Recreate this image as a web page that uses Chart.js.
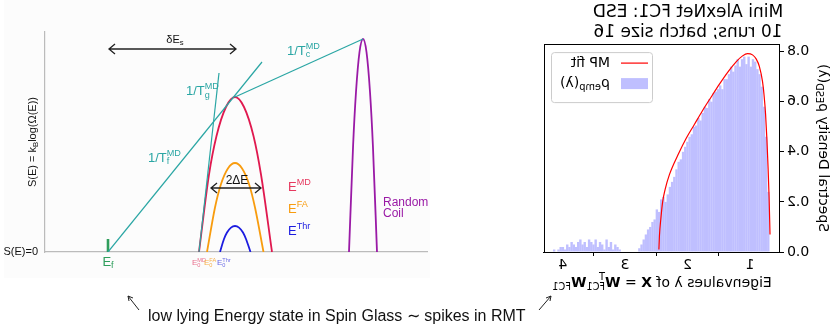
<!DOCTYPE html>
<html lang="en">
<head>
<meta charset="UTF-8">
<title>Spin glass energy landscape vs ESD</title>
<script src="https://cdn.jsdelivr.net/npm/chart.js"></script>
<style>
  body { margin: 0; background: #fff; width: 832px; height: 329px; overflow: hidden; position: relative; }
  #glass { position: absolute; left: 0; top: 0; }
  #esd { position: absolute; left: 520px; top: 0; transform: scaleX(-1); }
  #caption { position: absolute; left: 148px; top: 306px; font: 16px 'Liberation Sans', Arial, sans-serif; color: #111; white-space: nowrap; }
  svg { position: absolute; left: 0; top: 0; }
</style>
</head>
<body>
<canvas id="glass" width="520" height="329"></canvas>
<canvas id="esd" width="312" height="300"></canvas>
<svg width="832" height="329">
  <g stroke="#222" stroke-width="1" fill="none">
    <path d="M139 310 L128 296 M128 296 L129 301 M128 296 L133 298"/>
    <path d="M539 310 L551 296 M551 296 L546 298 M551 296 L550 301"/>
  </g>
</svg>
<div id="caption">low lying Energy state in Spin Glass ∼ spikes in RMT</div>

<script>
// ---- right panel: ESD histogram (drawn normally, mirrored by CSS) ----
const binStart = 0.69;
const binWidth = 0.035;
const esdDensity = [
  0.24, 0.46, 0.58, 0.66, 0.71, 0.73, 0.76, 0.77, 0.74, 0.78,
  0.75, 0.78, 0.77, 0.74, 0.77, 0.745, 0.72, 0.74, 0.71, 0.69,
  0.69, 0.65, 0.665, 0.65, 0.64, 0.635, 0.60, 0.61, 0.575, 0.58,
  0.555, 0.525, 0.535, 0.505, 0.50, 0.47, 0.46, 0.44, 0.42, 0.40,
  0.37, 0.36, 0.33, 0.30, 0.28, 0.26, 0.23, 0.20, 0.22, 0.21,
  0.16, 0.17, 0.13, 0.12, 0.10, 0.09, 0.07, 0.05, 0.03, 0.015,
  0, 0, 0, 0, 0, 0, 0, 0,
  0.01, 0.02, 0.03, 0.01, 0.04, 0.02, 0.05, 0.01, 0.03, 0.04,
  0.02, 0.05, 0.03, 0.04, 0.05, 0.02, 0.04, 0.03, 0.05, 0.04,
  0.02, 0.03, 0.04, 0.02, 0.03, 0.01, 0.02, 0.02, 0.01, 0.0,
  0.01, 0.0
];
const mpLambda  = [0.68, 0.695, 0.71, 0.73, 0.75, 0.775, 0.80, 0.85, 0.90, 0.96, 1.04, 1.12, 1.22, 1.35, 1.49, 1.62, 1.76, 1.89, 2.02, 2.15, 2.29, 2.36, 2.40, 2.43, 2.45, 2.46];
const mpDensity = [0.07, 0.22, 0.33, 0.45, 0.545, 0.625, 0.68, 0.74, 0.77, 0.787, 0.792, 0.783, 0.76, 0.72, 0.67, 0.62, 0.565, 0.51, 0.455, 0.39, 0.31, 0.25, 0.20, 0.13, 0.07, 0.01];
const xTicks = [1, 2, 3, 4];
const yTicks = [0, 0.2, 0.4, 0.6, 0.8];

const MPL = '"DejaVu Sans", sans-serif';
const SANS = '"Liberation Sans", Arial, sans-serif';

// rich text: parts [{t, b, sup, sub, keep}]
function drawRich(ctx, parts, x, y, o) {
  ctx.save();
  ctx.fillStyle = o.color || '#000';
  ctx.textBaseline = 'middle';
  ctx.textAlign = 'left';
  let w = 0;
  const runs = parts.map(p => {
    const fs = (p.sup || p.sub) ? o.size * 0.7 : o.size;
    const font = (p.b ? 'bold ' : '') + fs + 'px ' + o.family;
    ctx.font = font;
    const r = { t: p.t, font, dx: w, dy: p.sup ? -o.size * 0.38 : p.sub ? o.size * 0.3 : 0 };
    if (!p.keep) w += ctx.measureText(p.t).width;
    return r;
  });
  const x0 = o.align === 'center' ? x - w / 2 : o.align === 'right' ? x - w : x;
  runs.forEach(r => { ctx.font = r.font; ctx.fillText(r.t, x0 + r.dx, y + r.dy); });
  ctx.restore();
}

const esdExtras = {
  id: 'esdExtras',
  afterDraw(chart) {
    const { ctx, chartArea: a } = chart;
    ctx.save();
    ctx.strokeStyle = '#000';
    ctx.lineWidth = 1;
    ctx.strokeRect(Math.round(a.left) + 0.5, Math.round(a.top) + 0.5, Math.round(a.right - a.left) - 1, Math.round(a.bottom - a.top));
    // legend
    const lx = a.right - 109, ly = a.top + 8;
    ctx.beginPath();
    ctx.roundRect(lx + 0.5, ly + 0.5, 101, 50, 3);
    ctx.fillStyle = 'rgba(255,255,255,0.8)';
    ctx.fill();
    ctx.strokeStyle = '#cccccc';
    ctx.stroke();
    ctx.strokeStyle = 'red';
    ctx.lineWidth = 1.2;
    ctx.beginPath();
    ctx.moveTo(lx + 5, ly + 11); ctx.lineTo(lx + 32, ly + 11);
    ctx.stroke();
    ctx.fillStyle = 'rgb(191,191,255)';
    ctx.fillRect(lx + 5, ly + 26, 27, 11);
    ctx.restore();
    drawRich(ctx, [{ t: 'MP fit' }], lx + 43, ly + 11, { size: 14, family: MPL });
    drawRich(ctx, [{ t: 'ρ' }, { t: 'emp', sub: 1 }, { t: '(λ)' }], lx + 43, ly + 31, { size: 14, family: MPL });
    // axis titles
    drawRich(ctx, [{ t: 'Eigenvalues λ of ' }, { t: 'X', b: 1 }, { t: ' = ' }, { t: 'W', b: 1 },
      { t: 'T', sup: 1, keep: 1 }, { t: 'FC1', sub: 1 }, { t: 'W', b: 1 }, { t: 'FC1', sub: 1 }],
      (a.left + a.right) / 2, 283, { size: 14, family: MPL, align: 'center' });
    ctx.save();
    ctx.translate(9, (a.top + a.bottom) / 2);
    ctx.rotate(-Math.PI / 2);
    drawRich(ctx, [{ t: 'Spectral Density ρ' }, { t: 'ESD', sub: 1 }, { t: '(λ)' }], 0, 0, { size: 14, family: MPL, align: 'center' });
    ctx.restore();
  }
};

const tickFont = { family: MPL, size: 14 };

new Chart(document.getElementById('esd'), {
  type: 'bar',
  data: {
    datasets: [
      {
        type: 'line', label: 'MP fit', order: 0,
        data: mpLambda.map((x, i) => ({ x, y: mpDensity[i] })),
        borderColor: 'red', borderWidth: 1.2, pointRadius: 0, cubicInterpolationMode: 'monotone'
      },
      {
        type: 'bar', label: 'ρemp(λ)', order: 1,
        data: esdDensity.map((y, i) => ({ x: binStart + (i + 0.5) * binWidth, y })),
        backgroundColor: 'rgb(191,191,255)', borderWidth: 0,
        barPercentage: 1.1, categoryPercentage: 1
      }
    ]
  },
  options: {
    responsive: false, animation: false, events: [],
    layout: { padding: { left: 0, right: 24, top: 0, bottom: 0 } },
    plugins: {
      legend: { display: false }, tooltip: { enabled: false },
      title: {
        display: true, text: ['Mini AlexNet FC1: ESD', '10 runs; batch size 16'],
        color: '#000', font: { family: MPL, size: 17, weight: 'normal', lineHeight: 1.15 },
        padding: { top: 3, bottom: 2 }
      }
    },
    scales: {
      x: {
        type: 'linear', min: 0.52, max: 4.30, offset: false,
        afterBuildTicks(s) { s.ticks = xTicks.map(v => ({ value: v })); },
        afterFit(s) { s.height = 48; },
        ticks: { font: tickFont, color: '#000', padding: 1, maxRotation: 0, callback: v => String(v) },
        grid: { display: true, drawOnChartArea: false, tickLength: 4, color: '#000' },
        border: { color: '#000' }
      },
      y: {
        min: 0, max: 0.83,
        afterBuildTicks(s) { s.ticks = yTicks.map(v => ({ value: v })); },
        afterFit(s) { s.width = 52; },
        ticks: { font: tickFont, color: '#000', padding: 3, callback: v => v.toFixed(1) },
        grid: { display: true, drawOnChartArea: false, tickLength: 4, color: '#000' },
        border: { color: '#000' }
      }
    }
  },
  plugins: [esdExtras]
});

// ---- left panel: entropy vs energy schematic (E, S in arbitrary units) ----
const mdE  = [15.4, 16.4, 17.15, 18.1, 19.0, 19.9, 20.85, 21.6, 22.7];
const mdS  = [0, 7.75, 11.6, 14.5, 15.5, 14.5, 11.6, 7.75, 0];
const faE  = [16.2, 17.0, 17.57, 18.29, 19.0, 19.71, 20.43, 21.0, 21.85];
const faS  = [0, 4.45, 6.7, 8.35, 8.9, 8.35, 6.7, 4.45, 0];
const thrE = [17.5, 17.9, 18.2, 18.6, 19.0, 19.4, 19.8, 20.1, 20.55];
const thrS = [0, 1.3, 1.95, 2.44, 2.6, 2.44, 1.95, 1.3, 0];
const coilE = [30.4, 30.81, 31.1, 31.45, 31.8, 32.15, 32.5, 32.79, 33.2];
const coilS = [0, 10.65, 16.0, 20.0, 21.3, 20.0, 16.0, 10.65, 0];
const slopeF = [[6.3, 0], [21.7, 19.0]];
const slopeG = [[15.4, 0], [17.4, 17.9]];
const slopeC = [[19.0, 15.5], [31.8, 21.3]];
const efMark = [[6.3, 0], [6.3, 1.3]];
const arrowsLR = [[6.4, 19.1, 20.3], [16.6, 21.6, 6.4]];

const TEAL = '#2aa6a4', RED = '#e0194f', ORANGE = '#f89c0e', BLUE = '#1c1ce0', PURPLE = '#9a1aa6', GREEN = '#2f9e5c';

const notes = [
  { parts: [{ t: 'δE' }, { t: 's', sub: 1 }], E: 13.0, S: 21.2, color: '#111', size: 11, align: 'center' },
  { parts: [{ t: '1/T' }, { t: 'MD', sup: 1, keep: 1 }, { t: 'c', sub: 1 }], E: 24.2, S: 20.1, color: TEAL, size: 13 },
  { parts: [{ t: '1/T' }, { t: 'MD', sup: 1, keep: 1 }, { t: 'g', sub: 1 }], E: 14.1, S: 16.05, color: TEAL, size: 13 },
  { parts: [{ t: '1/T' }, { t: 'MD', sup: 1, keep: 1 }, { t: 'f', sub: 1 }], E: 10.3, S: 9.4, color: TEAL, size: 13 },
  { parts: [{ t: '2ΔE' }], E: 19.2, S: 7.1, color: '#111', size: 12, align: 'center' },
  { parts: [{ t: 'E' }, { t: 'MD', sup: 1 }], E: 24.3, S: 6.5, color: '#e6395f', size: 13 },
  { parts: [{ t: 'E' }, { t: 'FA', sup: 1 }], E: 24.3, S: 4.3, color: ORANGE, size: 13 },
  { parts: [{ t: 'E' }, { t: 'Thr', sup: 1 }], E: 24.3, S: 2.1, color: BLUE, size: 13 },
  { parts: [{ t: 'Random' }], E: 33.8, S: 4.9, color: PURPLE, size: 12 },
  { parts: [{ t: 'Coil' }], E: 33.8, S: 3.8, color: PURPLE, size: 12 },
  { parts: [{ t: 'E' }, { t: 'f', sub: 1 }], E: 6.3, S: -1.0, color: GREEN, size: 13, align: 'center' },
  { parts: [{ t: 'E' }, { t: 'MD', sup: 1, keep: 1 }, { t: '0', sub: 1 }], E: 14.7, S: -1.1, color: '#e8708e', size: 8 },
  { parts: [{ t: 'E' }, { t: 'FA', sup: 1, keep: 1 }, { t: '0', sub: 1 }], E: 15.9, S: -1.1, color: '#f6b04c', size: 8 },
  { parts: [{ t: 'E' }, { t: 'Thr', sup: 1, keep: 1 }, { t: '0', sub: 1 }], E: 17.2, S: -1.1, color: '#6a6ae6', size: 8 },
  { parts: [{ t: 'S(E)=0' }], E: -0.7, S: 0, color: '#111', size: 11, align: 'right' }
];

const glassExtras = {
  id: 'glassExtras',
  beforeDraw(chart) {
    const ctx = chart.ctx;
    ctx.save();
    ctx.fillStyle = '#fcfcfc';
    ctx.fillRect(4, 0, 426, 278);
    ctx.restore();
  },
  afterDraw(chart) {
    const { ctx, scales: { x, y } } = chart;
    ctx.save();
    ctx.strokeStyle = '#222';
    ctx.lineWidth = 1.3;
    arrowsLR.forEach(([e0, e1, s]) => {
      const x0 = x.getPixelForValue(e0), x1 = x.getPixelForValue(e1), py = y.getPixelForValue(s);
      ctx.beginPath();
      ctx.moveTo(x0, py); ctx.lineTo(x1, py);
      ctx.moveTo(x0 + 6, py - 5); ctx.lineTo(x0, py); ctx.lineTo(x0 + 6, py + 5);
      ctx.moveTo(x1 - 6, py - 5); ctx.lineTo(x1, py); ctx.lineTo(x1 - 6, py + 5);
      ctx.stroke();
    });
    ctx.restore();
    notes.forEach(n => drawRich(ctx, n.parts, x.getPixelForValue(n.E), y.getPixelForValue(n.S),
      { size: n.size, family: SANS, color: n.color, align: n.align || 'left' }));
    ctx.save();
    ctx.translate(x.getPixelForValue(-1.2), y.getPixelForValue(11));
    ctx.rotate(-Math.PI / 2);
    drawRich(ctx, [{ t: 'S(E) = k' }, { t: 'B', sub: 1 }, { t: 'log(Ω(E))' }], 0, 0, { size: 11, family: SANS, color: '#111', align: 'center' });
    ctx.restore();
  }
};

const curve = (es, ss, color) => ({
  data: es.map((e, i) => ({ x: e, y: ss[i] })), borderColor: color, borderWidth: 1.8,
  showLine: true, pointRadius: 0, cubicInterpolationMode: 'monotone'
});
const straight = (pts, color, w) => ({
  data: pts.map(([e, s]) => ({ x: e, y: s })), borderColor: color, borderWidth: w,
  showLine: true, pointRadius: 0
});

new Chart(document.getElementById('glass'), {
  type: 'scatter',
  data: {
    datasets: [
      straight(slopeF, TEAL, 1.2),
      straight(slopeG, TEAL, 1.2),
      straight(slopeC, TEAL, 1.2),
      curve(mdE, mdS, RED),
      curve(faE, faS, ORANGE),
      curve(thrE, thrS, BLUE),
      curve(coilE, coilS, PURPLE),
      straight(efMark, GREEN, 2.6)
    ]
  },
  options: {
    responsive: false, animation: false, events: [],
    layout: { padding: { left: 45, right: 93, top: 32, bottom: 77 } },
    plugins: { legend: { display: false }, tooltip: { enabled: false } },
    scales: {
      x: {
        type: 'linear', min: 0, max: 38.2,
        ticks: { display: false }, grid: { display: false },
        border: { color: '#bbbbbb', width: 1.2 }, afterFit(s) { s.height = 0; }
      },
      y: {
        type: 'linear', min: 0, max: 22,
        ticks: { display: false }, grid: { display: false },
        border: { color: '#bbbbbb', width: 1.2 }, afterFit(s) { s.width = 0; }
      }
    }
  },
  plugins: [glassExtras]
});
</script>
</body>
</html>
